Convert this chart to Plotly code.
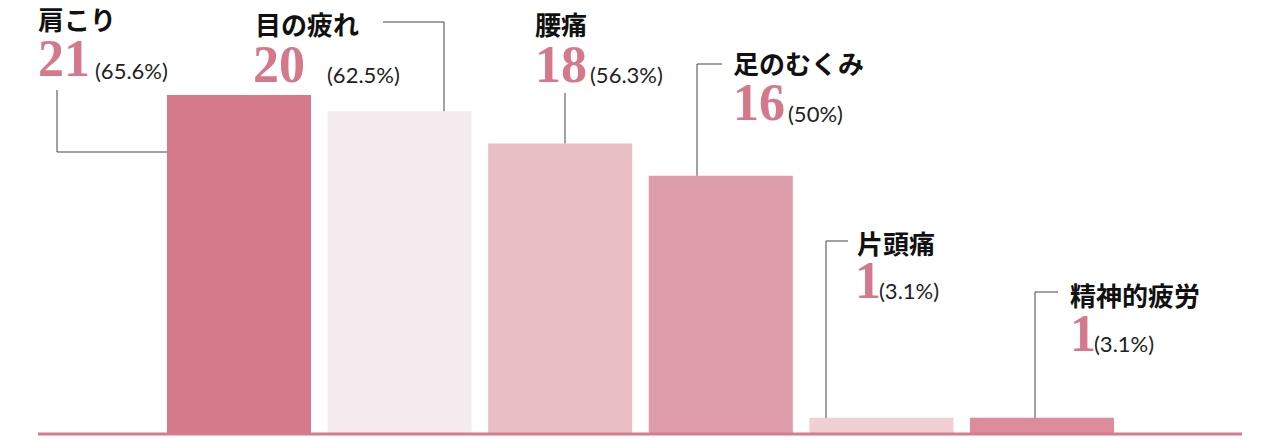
import plotly.graph_objects as go

# ---- data ----
categories = ["肩こり", "目の疲れ", "腰痛", "足のむくみ", "片頭痛", "精神的疲労"]
counts = [21, 20, 18, 16, 1, 1]
percents = ["(65.6%)", "(62.5%)", "(56.3%)", "(50%)", "(3.1%)", "(3.1%)"]

# ---- styling ----
bar_colors = ["#d57a8b", "#f5eaed", "#eabec5", "#df9dab", "#f0d0d5", "#dc8c9a"]
OFF = 8  # page body margin in the browser
W, H = 1280 - OFF, 442 - OFF
px_per_cat = 160.6
first_center = 239 - OFF
base_py = 434 - OFF
px_per_unit = 16.14

x0 = -first_center / px_per_cat
x1 = x0 + W / px_per_cat
y0 = -(H - base_py) / px_per_unit
y1 = y0 + H / px_per_unit

def px(x):
    return (x - OFF) / W

def py(y):
    return 1 - (y - OFF) / H

def ydata(y):
    return y0 + (H - (y - OFF)) / px_per_unit

fig = go.Figure()
fig.add_trace(go.Bar(
    x=list(range(len(categories))), y=counts, width=0.897,
    marker=dict(color=bar_colors, line=dict(width=0)),
    hoverinfo="skip", showlegend=False,
))

# label layout (pixel positions of the text blocks in the reference)
name_pos = [(36, 19), (253, 24), (533, 24), (731, 63), (855, 242), (1068, 294)]
num_pos = [(36, 59), (251, 64), (533, 64), (731, 102), (853, 280), (1068, 333)]
pct_pos = [(93, 71), (325, 74), (588, 74), (786, 113), (877, 290), (1092, 343)]

ann = []
for i in range(len(categories)):
    ann.append(dict(x=px(name_pos[i][0]), y=py(name_pos[i][1]), xref="paper", yref="paper",
                    text=f"<b>{categories[i]}</b>", showarrow=False, xanchor="left", yanchor="middle",
                    font=dict(family="Noto Sans CJK JP", size=26, color="#111")))
    ann.append(dict(x=px(num_pos[i][0]), y=py(num_pos[i][1]), xref="paper", yref="paper",
                    text=f"<b>{counts[i]}</b>", showarrow=False, xanchor="left", yanchor="middle",
                    font=dict(family="Liberation Serif", size=52, color="#d4798b")))
    ann.append(dict(x=px(pct_pos[i][0]), y=py(pct_pos[i][1]), xref="paper", yref="paper",
                    text=percents[i], showarrow=False, xanchor="left", yanchor="middle",
                    font=dict(family="Lato", size=22, color="#222")))

line_style = dict(color="#444", width=1)
shapes = []
# leader 1: vertical then horizontal to the bar's left edge
shapes.append(dict(type="line", xref="paper", yref="paper", x0=px(57), y0=py(90), x1=px(57), y1=py(152), line=line_style))
shapes.append(dict(type="line", xref="paper", yref="paper", x0=px(57), y0=py(152), x1=px(167), y1=py(152), line=line_style))
# leader 2: horizontal then down to bar top
shapes.append(dict(type="line", xref="paper", yref="paper", x0=px(383), y0=py(22), x1=px(444), y1=py(22), line=line_style))
shapes.append(dict(type="line", xref="paper", yref="y", x0=px(444), x1=px(444), y0=ydata(22), y1=counts[1], line=line_style))
# leader 3: vertical to bar top
shapes.append(dict(type="line", xref="paper", yref="y", x0=px(565), x1=px(565), y0=ydata(93), y1=counts[2], line=line_style))
# leaders 4-6: short horizontal + vertical down to bar top
for i, (lx, ly, hx) in zip([3, 4, 5], [(697, 64, 722), (826, 241, 848), (1035, 292, 1058)]):
    shapes.append(dict(type="line", xref="paper", yref="paper", x0=px(lx), y0=py(ly), x1=px(hx), y1=py(ly), line=line_style))
    shapes.append(dict(type="line", xref="paper", yref="y", x0=px(lx), x1=px(lx), y0=ydata(ly), y1=counts[i], line=line_style))
# baseline
shapes.append(dict(type="line", xref="paper", yref="paper", x0=px(38), x1=px(1242), y0=py(434), y1=py(434),
                   line=dict(color="#d67c8d", width=3), layer="above"))

fig.update_layout(
    width=W, height=H, margin=dict(l=0, r=0, t=0, b=0),
    paper_bgcolor="white", plot_bgcolor="white",
    xaxis=dict(range=[x0, x1], visible=False, fixedrange=True),
    yaxis=dict(range=[y0, y1], visible=False, fixedrange=True),
    annotations=ann, shapes=shapes, showlegend=False,
)

fig.write_html("out.html", config={"displayModeBar": False})
